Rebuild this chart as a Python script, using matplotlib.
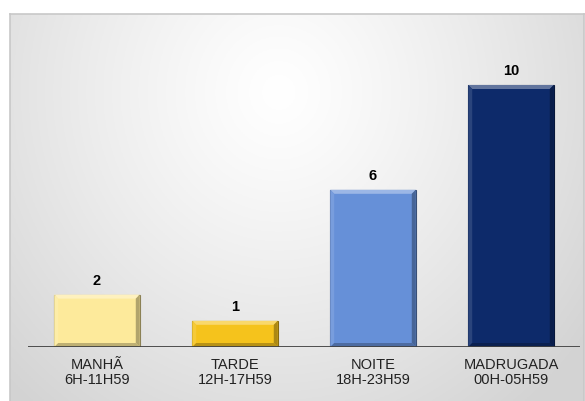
import numpy as np
import matplotlib.pyplot as plt
from matplotlib.patches import Rectangle, Polygon
import matplotlib.colors as mcolors

categories = ['MANHÃ\n6H-11H59', 'TARDE\n12H-17H59', 'NOITE\n18H-23H59', 'MADRUGADA\n00H-05H59']
values = [2, 1, 6, 10]
colors = ['#FDEA9B', '#F5C31C', '#6690D8', '#0D2A6A']

plt.rcParams['font.family'] = ['Liberation Sans', 'DejaVu Sans']

W, H = 585, 401
fig = plt.figure(figsize=(W / 100, H / 100), dpi=100)
fig.patch.set_facecolor('white')

# gray radial gradient background inside the chart box
bg = fig.add_axes([10 / W, 0, (584 - 10) / W, (H - 14) / H])
yy, xx = np.mgrid[0:200, 0:300]
cx, cy = 140, 40
d = np.sqrt(((xx - cx) / 200.0) ** 2 + ((yy - cy) / 210.0) ** 2)
d = np.clip(d, 0, 1)
shade = 1.0 - 0.17 * d ** 1.2
img = np.dstack([shade, shade, shade])
bg.imshow(img, aspect='auto', extent=[0, 1, 0, 1], origin='upper')
bg.set_xlim(0, 1)
bg.set_ylim(0, 1)
bg.set_xticks([])
bg.set_yticks([])
for s in bg.spines.values():
    s.set_color('#C8C8C8')
    s.set_linewidth(1.2)
bg.spines['bottom'].set_visible(False)

# main axes: x from 28 to 580 px, baseline at y=347
x0, x1 = 28, 580
base = 347
top = 30
ax = fig.add_axes([x0 / W, (H - base) / H, (x1 - x0) / W, (base - top) / H])
ax.patch.set_alpha(0)
ax.set_xlim(-0.5, 3.5)
ymax = (base - top) / 26.2
ax.set_ylim(0, ymax)

bw = 0.62
px_x = 4.0 / ((x1 - x0) / 4.0)
px_y = 4.0 / 26.2


def shade_col(c, f):
    r = np.array(mcolors.to_rgb(c))
    if f > 0:
        r = r + (1 - r) * f
    else:
        r = r * (1 + f)
    return np.clip(r, 0, 1)


for i, (v, c) in enumerate(zip(values, colors)):
    l, r = i - bw / 2, i + bw / 2
    ax.add_patch(Rectangle((l, 0), bw, v, facecolor=c, edgecolor=shade_col(c, -0.45), lw=0.8, zorder=2))
    # bevel edges
    bx, by = px_x, px_y
    ax.add_patch(Polygon([(l, v), (r, v), (r - bx, v - by), (l + bx, v - by)],
                         facecolor=shade_col(c, 0.35), edgecolor='none', zorder=3))
    ax.add_patch(Polygon([(l, 0), (l, v), (l + bx, v - by), (l + bx, by)],
                         facecolor=shade_col(c, 0.12), edgecolor='none', zorder=3))
    ax.add_patch(Polygon([(r, 0), (r, v), (r - bx, v - by), (r - bx, by)],
                         facecolor=shade_col(c, -0.3), edgecolor='none', zorder=3))
    ax.add_patch(Polygon([(l, 0), (r, 0), (r - bx, by), (l + bx, by)],
                         facecolor=shade_col(c, -0.25), edgecolor='none', zorder=3))
    ax.text(i, v + 7 / 26.2, str(v), ha='center', va='bottom', fontsize=10.5,
            fontweight='bold', color='black')

ax.axhline(0, color='#404040', lw=2, zorder=4)
ax.set_xticks(range(len(categories)))
ax.set_xticklabels(categories, fontsize=10.5, color='#222222', linespacing=1.05)
ax.tick_params(axis='x', length=0, pad=8)
ax.set_yticks([])
for s in ax.spines.values():
    s.set_visible(False)

fig.savefig('out.png', dpi=100, facecolor='white')
